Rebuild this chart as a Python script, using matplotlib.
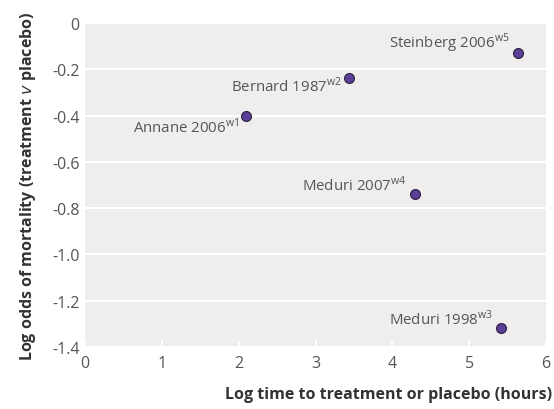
import matplotlib.pyplot as plt

# === Data ===
studies = ["Annane 2006", "Bernard 1987", "Steinberg 2006", "Meduri 2007", "Meduri 1998"]
refs = ["w1", "w2", "w5", "w4", "w3"]
log_time = [2.10, 3.44, 5.63, 4.30, 5.42]
log_odds = [-0.40, -0.238, -0.13, -0.74, -1.32]

y_ticks = [0, -0.2, -0.4, -0.6, -0.8, -1.0, -1.2, -1.4]
y_tick_labels = ["0", "-0.2", "-0.4", "-0.6", "-0.8", "-1.0", "-1.2", "-1.4"]
x_ticks = [0, 1, 2, 3, 4, 5, 6]

# label offsets (points) for each study
offsets = [(-5, -8), (-5, -5), (-6, 8), (-6, 7), (-6, 7)]

plt.rcParams['font.family'] = ['Open Sans', 'DejaVu Sans']
plt.rcParams['mathtext.fontset'] = 'custom'
plt.rcParams['mathtext.rm'] = 'Open Sans'

fig = plt.figure(figsize=(5.54, 4.10), dpi=100)
ax = fig.add_axes([0.1534, 0.1512, 0.8322, 0.7903])
ax.set_facecolor("#efeeed")

ax.scatter(log_time, log_odds, s=50, color="#5e3f98", edgecolor="#2e2545",
           linewidth=0.9, zorder=3)

for name, ref, x, y, off in zip(studies, refs, log_time, log_odds, offsets):
    ax.annotate(name + r"$^{\mathrm{" + ref + "}}$", (x, y), xytext=off,
                textcoords="offset points", ha="right", va="center",
                fontsize=10.8, color="#555555")

ax.set_xlim(0, 6)
ax.set_ylim(-1.4, 0)
ax.set_xticks(x_ticks)
ax.set_yticks(y_ticks)
ax.set_yticklabels(y_tick_labels)
ax.grid(axis="y", color="white", linewidth=1.5)
ax.set_axisbelow(True)
for s in ax.spines.values():
    s.set_visible(False)
ax.tick_params(axis="x", direction="in", length=4, width=1.5, color="white",
               labelsize=11.5, labelcolor="#555555", pad=6)
ax.tick_params(axis="y", length=0, labelsize=11.5, labelcolor="#555555", pad=4)

ax.set_ylabel(r"Log odds of mortality (treatment $\mathbf{\mathit{v}}$ placebo)",
              fontsize=11.5, fontweight="bold", color="#333333", labelpad=10)
fig.text(0.997, 0.018, "Log time to treatment or placebo (hours)", ha="right",
         va="bottom", fontsize=11.5, fontweight="bold", color="#333333")

fig.savefig("out.png", dpi=100)
